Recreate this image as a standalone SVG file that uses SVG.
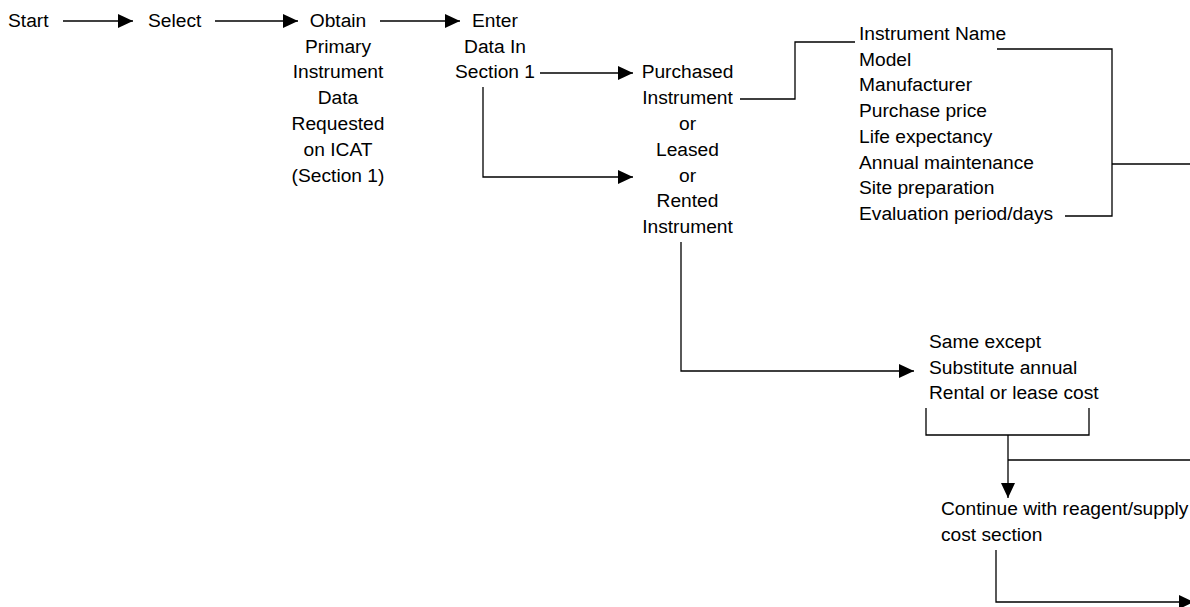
<svg xmlns="http://www.w3.org/2000/svg" width="1190" height="607" viewBox="0 0 1190 607">
<defs>
<style>
text{font-family:"Liberation Sans",Arial,sans-serif;font-size:19.2px;fill:#000}
.c{text-anchor:middle}
.ln{fill:none;stroke:#000;stroke-width:1.3}
</style>
<marker id="ah" markerUnits="userSpaceOnUse" markerWidth="15" markerHeight="14" refX="15" refY="7" orient="auto" viewBox="0 0 15 14">
<path d="M0,0 L15,7 L0,14 z" fill="#000"/>
</marker>
</defs>
<rect width="1190" height="607" fill="#fff"/>
<g id="start"><text x="8" y="26.7">Start</text></g>
<g id="select"><text x="148" y="26.7">Select</text></g>
<g id="obtain">
<text class="c" x="338" y="26.7">Obtain</text>
<text class="c" x="338" y="52.5">Primary</text>
<text class="c" x="338" y="78.3">Instrument</text>
<text class="c" x="338" y="104.1">Data</text>
<text class="c" x="338" y="129.9">Requested</text>
<text class="c" x="338" y="155.7">on ICAT</text>
<text class="c" x="338" y="181.5">(Section 1)</text>
</g>
<g id="enter">
<text class="c" x="495" y="26.7">Enter</text>
<text class="c" x="495" y="52.5">Data In</text>
<text class="c" x="495" y="78.3">Section 1</text>
</g>
<g id="instrument-type">
<text class="c" x="687.5" y="78.3">Purchased</text>
<text class="c" x="687.5" y="104.1">Instrument</text>
<text class="c" x="687.5" y="129.9">or</text>
<text class="c" x="687.5" y="155.7">Leased</text>
<text class="c" x="687.5" y="181.5">or</text>
<text class="c" x="687.5" y="207.3">Rented</text>
<text class="c" x="687.5" y="233.1">Instrument</text>
</g>
<g id="data-list">
<text x="859" y="40">Instrument Name</text>
<text x="859" y="65.7">Model</text>
<text x="859" y="91.4">Manufacturer</text>
<text x="859" y="117.1">Purchase price</text>
<text x="859" y="142.9">Life expectancy</text>
<text x="859" y="168.6">Annual maintenance</text>
<text x="859" y="194.3">Site preparation</text>
<text x="859" y="220">Evaluation period/days</text>
</g>
<g id="same-except">
<text x="929" y="348">Same except</text>
<text x="929" y="373.7">Substitute annual</text>
<text x="929" y="399.4">Rental or lease cost</text>
</g>
<g id="continue">
<text x="941" y="515">Continue with reagent/supply</text>
<text x="941" y="540.7">cost section</text>
</g>
<g id="connectors">
<line class="ln" x1="63" y1="21" x2="133" y2="21" marker-end="url(#ah)"/>
<line class="ln" x1="215" y1="21" x2="298" y2="21" marker-end="url(#ah)"/>
<line class="ln" x1="380" y1="21" x2="460" y2="21" marker-end="url(#ah)"/>
<line class="ln" x1="540" y1="73" x2="633" y2="73" marker-end="url(#ah)"/>
<polyline class="ln" points="483,87 483,177 633,177" marker-end="url(#ah)"/>
<polyline class="ln" points="740,99 795,99 795,42 855,42"/>
<polyline class="ln" points="997,49 1112,49 1112,216 1065,216"/>
<line class="ln" x1="1112" y1="164" x2="1190" y2="164"/>
<polyline class="ln" points="681,242 681,371 914,371" marker-end="url(#ah)"/>
<polyline class="ln" points="926,408 926,435 1089,435 1089,408"/>
<line class="ln" x1="1008" y1="435" x2="1008" y2="498" marker-end="url(#ah)"/>
<line class="ln" x1="1008" y1="460" x2="1190" y2="460"/>
<polyline class="ln" points="996,550 996,602 1194,602" marker-end="url(#ah)"/>
</g>
</svg>
